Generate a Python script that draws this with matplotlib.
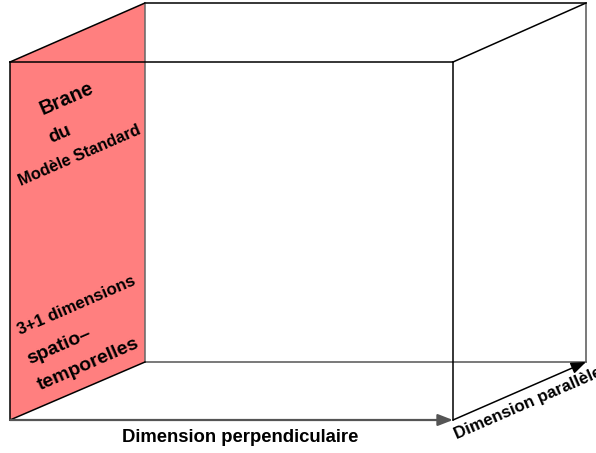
import matplotlib
matplotlib.use("Agg")
import matplotlib.pyplot as plt
from matplotlib.patches import Polygon, FancyArrowPatch

# Box geometry (pixel coordinates of the diagram)
front_x = [10, 453]
front_y = [62, 420]
back_x = [145, 586]
back_y = [3, 362]

brane_labels = ["Brane", "du", "Modèle Standard", "3+1 dimensions", "spatio–", "temporelles"]
brane_pos = [(67, 99), (60, 134), (80, 156), (77, 306), (59, 347), (88, 364)]
brane_sizes = [14.5, 13.5, 11.8, 12.2, 14, 14]
axis_labels = ["Dimension perpendiculaire", "Dimension parallèle"]

plt.rcParams['font.family'] = ['Liberation Sans', 'DejaVu Sans']
fig = plt.figure(figsize=(5.96, 4.53), dpi=100)
ax = fig.add_axes([0, 0, 1, 1])
ax.set_xlim(0, 596)
ax.set_ylim(453, 0)
ax.axis('off')

fl, fr = front_x
ft, fb = front_y
bl, br = back_x
bt, bb = back_y

# pink brane wall
ax.add_patch(Polygon([(fl, ft), (bl, bt), (bl, bb), (fl, fb)], closed=True,
                     facecolor='#ff7f7f', edgecolor='none', zorder=1))

lw = 1.1
k = 'black'
# back face
ax.plot([bl, br], [bt, bt], color=k, lw=lw, zorder=2)
ax.plot([br, br], [bt, bb], color='#555555', lw=lw, zorder=2)
ax.plot([bl, br], [bb, bb], color='#555555', lw=lw, zorder=2)
ax.plot([bl, bl], [bt, bb], color='#666666', lw=lw, zorder=2)
# front face
ax.plot([fl, fr], [ft, ft], color=k, lw=lw, zorder=2)
ax.plot([fr, fr], [ft, fb], color=k, lw=lw, zorder=2)
ax.plot([fl, fl], [ft, fb], color=k, lw=lw, zorder=2)
# diagonals
ax.plot([fl, bl], [ft, bt], color=k, lw=lw, zorder=2)
ax.plot([fr, br], [ft, bt], color=k, lw=lw, zorder=2)
ax.plot([fl, bl], [fb, bb], color=k, lw=lw, zorder=2)

# arrows
ax.add_patch(FancyArrowPatch((fl, fb), (fr, fb), arrowstyle='-|>,head_length=9,head_width=3.5',
                             color='#555555', lw=1.6, mutation_scale=1, shrinkA=0, shrinkB=0, zorder=3))
ax.add_patch(FancyArrowPatch((fr, fb), (br, bb), arrowstyle='-|>,head_length=9,head_width=3.5',
                             color='black', lw=1.1, mutation_scale=1, shrinkA=0, shrinkB=0, zorder=3))

angle = 23.5
for txt, (x, y), s in zip(brane_labels, brane_pos, brane_sizes):
    ax.text(x, y, txt, rotation=angle, rotation_mode='anchor', ha='center', va='center',
            fontsize=s, fontweight='bold', color='black', zorder=4)

ax.text(240, 437, axis_labels[0], ha='center', va='center', fontsize=13.3, fontweight='bold')
ax.text(528, 403, axis_labels[1], rotation=angle, rotation_mode='anchor', ha='center', va='center',
        fontsize=12.2, fontweight='bold')

fig.savefig('out.png', dpi=100)
